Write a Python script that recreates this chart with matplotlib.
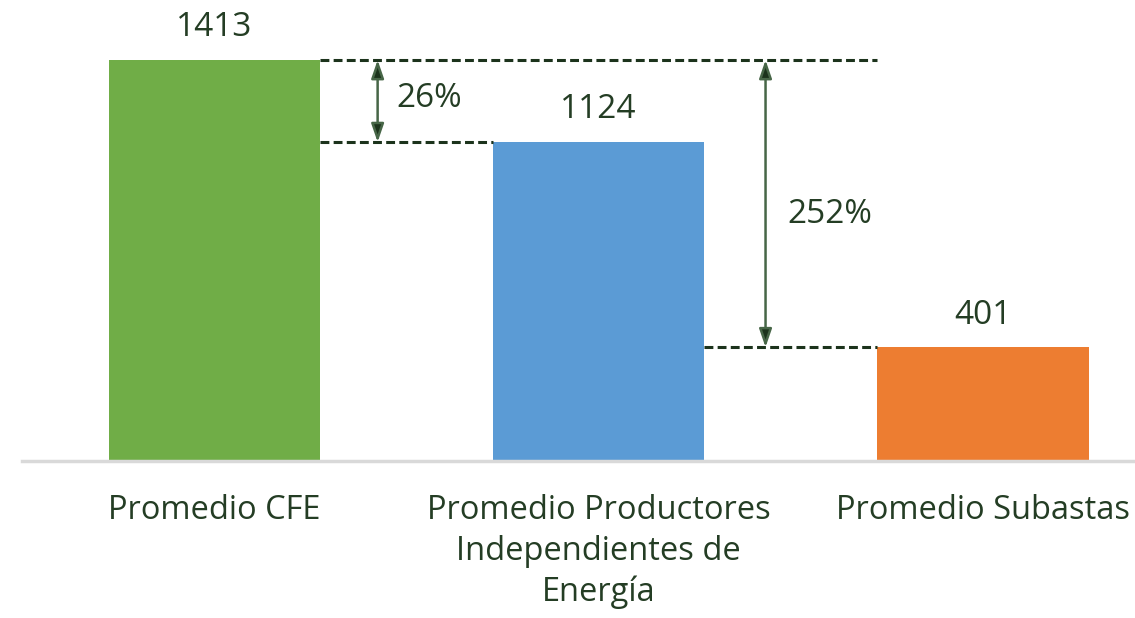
import matplotlib.pyplot as plt

plt.rcParams['font.family'] = ['Open Sans', 'DejaVu Sans']

categorias = ["Promedio CFE", "Promedio Productores\nIndependientes de\nEnergía", "Promedio Subastas"]
valores = [1413, 1124, 401]
colores = ["#70AD47", "#5B9BD5", "#ED7D31"]
pct_labels = ["26%", "252%"]

txt_color = "#243d24"
dash_color = "#1c331c"

fig = plt.figure(figsize=(11.35, 6.18), dpi=100)
ax = fig.add_axes([22 / 1135, (618 - 461) / 618, 1 - 22 / 1135, 454 / 618])

x = [0, 1, 2]
w = 0.55
ax.bar(x, valores, width=w, color=colores, zorder=2)
ax.set_xlim(-0.5, 2.395)
ax.set_ylim(0, 1600)

for xi, v in zip(x, valores):
    ax.text(xi, v + 55, str(v), ha="center", va="bottom", fontsize=24, color=txt_color)

# lineas punteadas de referencia
dkw = dict(color=dash_color, lw=2.2, ls=(0, (2.9, 1.4)), zorder=3)
ax.plot([0 + w / 2, 2 - w / 2], [valores[0], valores[0]], **dkw)
ax.plot([0 + w / 2, 1 - w / 2], [valores[1], valores[1]], **dkw)
ax.plot([1 + w / 2, 2 - w / 2], [valores[2], valores[2]], **dkw)

# flechas
akw = dict(arrowstyle="<|-|>,head_length=1.1,head_width=0.38", facecolor=dash_color,
           edgecolor="#476647", lw=1.8, shrinkA=0, shrinkB=0)
xa1 = 0.425
ax.annotate("", xy=(xa1, valores[1]), xytext=(xa1, valores[0]), arrowprops=akw)
ax.text(xa1 + 0.05, (valores[0] + valores[1]) / 2 + 10, pct_labels[0], ha="left", va="center",
        fontsize=24, color=txt_color)
xa2 = 1.434
ax.annotate("", xy=(xa2, valores[2]), xytext=(xa2, valores[0]), arrowprops=akw)
ax.text(xa2 + 0.057, 870, pct_labels[1], ha="left", va="center",
        fontsize=24, color=txt_color)

for s in ["top", "right", "left"]:
    ax.spines[s].set_visible(False)
ax.spines["bottom"].set_color("#d9d9d9")
ax.spines["bottom"].set_linewidth(2.5)
ax.set_yticks([])
ax.set_xticks(x)
ax.set_xticklabels(categorias, fontsize=23.5, color=txt_color, linespacing=1.3)
ax.tick_params(axis="x", length=0, pad=24)

fig.savefig("out.png", dpi=100)
